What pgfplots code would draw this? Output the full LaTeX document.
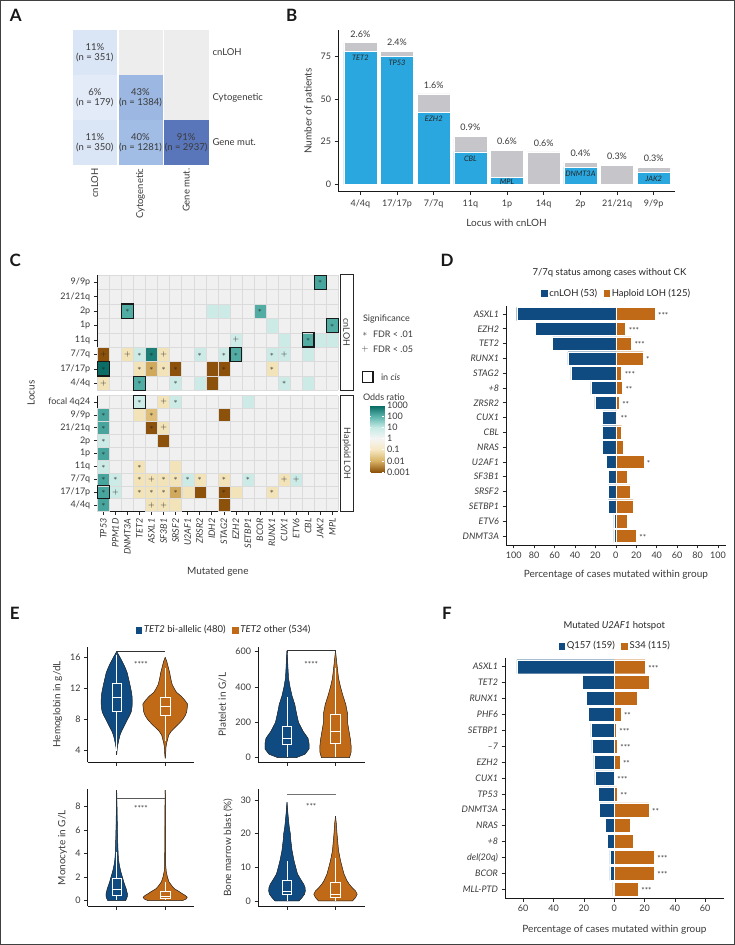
\documentclass[border=0pt]{standalone}
\usepackage{fontspec}
\setmainfont{Lato}
\usepackage{pgfplots}
\usepackage{pgfplotstable}
\pgfplotsset{compat=1.18}
\usepgfplotslibrary{statistics}

\definecolor{txt}{HTML}{3A3A3A}
\definecolor{bblue}{HTML}{2AA7DF}
\definecolor{bgrey}{HTML}{C6C5CA}
\definecolor{dblue}{HTML}{0F4B80}
\definecolor{dorange}{HTML}{C06A18}
\definecolor{hgrey}{HTML}{F0F0F0}
\definecolor{agrey}{HTML}{EDEDED}
\definecolor{aA}{HTML}{DAE5F5}
\definecolor{aB}{HTML}{E3EBF8}
\definecolor{aC}{HTML}{9CB8E2}
\definecolor{aD}{HTML}{A2BDE5}
\definecolor{aE}{HTML}{5A76BB}

\pgfplotsset{
  every axis/.append style={
    scale only axis, clip=false,
    font=\fontsize{9}{10}\selectfont,
    /pgf/number format/assume math mode=true,
    tick align=outside, major tick length=3.5pt,
    tick style={black!85, line width=0.6pt},
    axis line style={black!90, line width=0.8pt},
    tick label style={text=txt},
    label style={text=txt, font=\fontsize{10}{11}\selectfont},
  },
  sqlegend/.style={legend image code/.code={\draw[##1, draw=white, line width=0.3pt] (0pt,-3.7pt) rectangle (7.4pt,3.7pt);}},
  brbg/.style={colormap={brbg}{rgb255=(140,81,10) rgb255=(216,179,101) rgb255=(246,232,195) rgb255=(245,245,245) rgb255=(199,234,229) rgb255=(90,180,172) rgb255=(1,102,94)},
    point meta min=-3, point meta max=3},
}

% violin half-widths (w, in px of the x axis) against value y
\pgfplotstableread{
y w
3.45 0
4.0 0.3
4.5 0.7
5.0 1.5
5.5 2.3
6.0 3.3
6.5 4.8
7.0 6.8
7.5 8.8
8.0 10.7
8.5 12.8
9.0 14.5
9.5 15.2
10.0 15.5
10.5 15.5
11.0 15.3
11.5 14.8
12.0 14.0
12.5 13.2
13.0 12.3
13.5 11.4
14.0 10.5
14.5 9.0
15.0 7.3
15.5 5.3
16.0 3.3
16.4 1.5
16.75 0
}\hbA
\pgfplotstableread{
y w
3.0 0
3.5 0.4
4.0 0.6
4.5 0.8
5.0 1.5
5.5 2.5
6.0 3.5
6.5 6.0
7.0 10.0
7.5 14.0
8.0 17.5
8.5 20.0
9.0 21.5
9.5 22.0
10.0 22.3
10.5 19.5
11.0 16.0
11.5 11.3
12.0 9.0
12.5 7.0
13.0 6.0
13.5 5.2
14.0 4.5
14.5 3.5
15.0 2.5
15.5 1.5
16.0 0
}\hbB
\pgfplotstableread{
y w
0 0
0 9
20 18
50 22
80 22
110 21
150 16
200 11.5
250 9.5
300 7.8
350 5
400 3
450 1.5
500 1
550 0.6
605 0
}\plA
\pgfplotstableread{
y w
0 0
0 14
30 15.5
60 15.7
100 15
150 13.5
200 12
250 12
300 10.3
350 7.5
400 5
450 3
500 2
550 1
605 0
}\plB
\pgfplotstableread{
y w
0 0
0 8.8
0.2 10
0.4 10.7
0.6 10.7
0.8 10
1.0 9.5
1.3 8.2
1.6 7
2.0 5.7
2.5 4
3.0 2.7
3.5 1.8
4.0 1.4
5.0 1
6.0 0.7
7.5 0.4
9.4 0
}\moA
\pgfplotstableread{
y w
0 0
0 17
0.15 21
0.3 22
0.45 20
0.6 17
0.77 14
1.0 9.5
1.2 7.2
1.6 3.8
2.0 2.2
2.5 1
3.0 0.5
7.5 0.3
9.4 0
}\moB
\pgfplotstableread{
y w
0 0
0 12
1 15
2 17.5
3 18.3
4 18
5 16.7
6 14.5
7 12.5
8 10.5
10 8.7
12 7
15 5
18 3.8
20 3.3
22 2.2
25 1.2
27 0.6
29.3 0
}\blA
\pgfplotstableread{
y w
0 0
0 17
1 20
2 21.7
3 20
4 16.5
5 13.7
6 11.5
8 8.5
10 6.7
12 5
15 3
20 1.5
23 0.8
25.2 0
}\blB

\newcommand\violin[3]{%
  \addplot[fill=#3, draw=#3, line width=0.2pt] table[x expr=#1+\thisrow{w}, y=y] {#2} -- cycle;
  \addplot[fill=#3, draw=#3, line width=0.2pt] table[x expr=#1-\thisrow{w}, y=y] {#2} -- cycle;
  \addplot[draw=black!85, line width=0.5pt] table[x expr=#1+\thisrow{w}, y=y] {#2};
  \addplot[draw=black!85, line width=0.5pt] table[x expr=#1-\thisrow{w}, y=y] {#2};
}
\newcommand\vlbox[7]{% position, median, uq, lq, uw, lw, colour
  \addplot[boxplot prepared={draw position=#1, median=#2, upper quartile=#3, lower quartile=#4,
    upper whisker=#5, lower whisker=#6, box extend=9.5, whisker extend=0, draw direction=y},
    fill=#7, draw=white, line width=0.7pt] coordinates {};
}

\begin{document}
\begin{tikzpicture}
\fill[white] (0pt,0pt) rectangle (735pt,945pt);
\draw[black!75, line width=1.2pt] (0.6pt,0.6pt) rectangle (734.4pt,944.4pt);

% panel letters
\begin{scope}[every node/.style={font=\fontsize{17}{17}\selectfont\bfseries, text=black!90}]
\node at (15.8pt,929.2pt) {A};
\node at (291.7pt,929.5pt) {B};
\node at (15.3pt,685pt) {C};
\node at (447pt,685pt) {D};
\node at (14.7pt,331.3pt) {E};
\node at (447pt,331.3pt) {F};
\end{scope}

% ---------------- A ----------------
\begin{axis}[at={(72pt,780pt)}, anchor=south west, width=137pt, height=135pt,
  xmin=0.5, xmax=3.5, ymin=0.5, ymax=3.5,
  axis line style={draw=none}, major tick length=0pt, tick style={draw=none},
  xtick={1,2,3}, xticklabels={cnLOH,Cytogenetic,Gene mut.},
  ytick={1,2,3}, yticklabels={Gene mut.,Cytogenetic,cnLOH},
  yticklabel pos=right,
  x tick label style={rotate=90, anchor=east},
  tick label style={font=\fontsize{9.5}{11}\selectfont},
  /pgf/number format/1000 sep={},
]
\addplot[scatter, only marks, mark=square*, mark size=21.8pt, scatter src=explicit symbolic,
  scatter/classes={g={fill=agrey,draw=agrey}, a={fill=aA,draw=aA}, b={fill=aB,draw=aB},
    c={fill=aC,draw=aC}, d={fill=aD,draw=aD}, e={fill=aE,draw=aE}}]
  coordinates {(1,3)[a] (2,3)[g] (3,3)[g] (1,2)[b] (2,2)[c] (3,2)[g] (1,1)[a] (2,1)[d] (3,1)[e]};
% percentages (top line) and counts (bottom line)
\addplot[draw=none, mark=none, point meta=explicit,
  nodes near coords={\pgfmathprintnumber{\pgfplotspointmeta}\%},
  every node near coord/.append style={anchor=center, yshift=5.4pt, font=\fontsize{9.5}{10}\selectfont, text=txt}]
  coordinates {(1,3)[11] (1,2)[6] (2,2)[43] (1,1)[11] (2,1)[40] (3,1)[91]};
\addplot[draw=none, mark=none, point meta=explicit,
  nodes near coords={(n = \pgfmathprintnumber{\pgfplotspointmeta})},
  every node near coord/.append style={anchor=center, yshift=-5.4pt, font=\fontsize{9.5}{10}\selectfont, text=txt}]
  coordinates {(1,3)[351] (1,2)[179] (2,2)[1384] (1,1)[350] (2,1)[1281] (3,1)[2937]};
\end{axis}

% ---------------- B ----------------
\begin{axis}[at={(338pt,753.3pt)}, anchor=south west, width=337pt, height=161.7pt,
  xmin=-0.61, xmax=8.58, ymin=-4.3, ymax=90.5,
  axis x line*=bottom, axis y line*=left,
  xtick={0,...,8}, xticklabels={4/4q,17/17p,7/7q,11q,1p,14q,2p,21/21q,9/9p},
  ytick={0,25,50,75},
  x tick label style={yshift=-1.5pt},
  xlabel={Locus with cnLOH}, xlabel style={at={(axis description cs:0.5,-0.192)}, anchor=center},
  ylabel={Number of patients}, ylabel style={at={(axis description cs:-0.087,0.5)}, anchor=center},
]
\addplot[ybar, bar width=33pt, bar shift=0pt, fill=bgrey, draw=white, line width=0.6pt,
  point meta=explicit,
  nodes near coords={\pgfmathprintnumber[fixed,fixed zerofill,precision=1]{\pgfplotspointmeta}\%},
  every node near coord/.append style={font=\fontsize{9}{10}\selectfont, text=txt, yshift=2pt}]
  coordinates {(0,83)[2.6] (1,78)[2.4] (2,53)[1.6] (3,28)[0.9] (4,20)[0.6] (5,19)[0.6] (6,13)[0.4] (7,11)[0.3] (8,10)[0.3]};
\addplot[ybar, bar width=33pt, bar shift=0pt, fill=bblue, draw=white, line width=0.6pt]
  coordinates {(0,78) (1,75) (2,42) (3,19) (4,4) (5,0) (6,10) (7,0) (8,7)};
\addplot[draw=none, mark=none, nodes near coords, point meta=explicit symbolic,
  every node near coord/.append style={anchor=north, inner sep=2pt, yshift=-1.5pt,
    font=\fontsize{7.5}{8}\selectfont\itshape, text=black!85}]
  coordinates {(0,78)[TET2] (1,75)[TP53] (2,42)[EZH2] (3,19)[CBL] (6,10)[DNMT3A] (8,7)[JAK2]};
\addplot[draw=none, mark=none, nodes near coords, point meta=explicit symbolic,
  every node near coord/.append style={anchor=center, inner sep=0pt,
    font=\fontsize{7.5}{8}\selectfont\itshape, text=black!85}]
  coordinates {(4,1.5)[MPL]};
\end{axis}

% ---------------- C ----------------
\begin{axis}[brbg, at={(97.3pt,554.5pt)}, anchor=south west, width=241pt, height=115.5pt,
  xmin=0.5, xmax=20.5, ymin=0.5, ymax=8.5,
  axis x line*=bottom, axis y line*=left, x axis line style={draw=none},
  xtick={1,...,20}, xticklabels={}, x tick style={draw=none},
  ytick={1,...,8}, yticklabels={4/4q,17/17p,7/7q,11q,1p,2p,21/21q,9/9p},
  minor xtick={0.5,1.5,...,20.5}, minor ytick={0.5,1.5,...,8.5},
  minor tick length=0pt, xminorgrids, yminorgrids,
  minor grid style={black!14, line width=0.4pt},
  axis background/.style={fill=hgrey},
]
\addplot[scatter, only marks, mark=square*, mark size=6.02pt, mark options={yscale=1.195, line width=0.3pt},
  point meta=explicit, scatter/use mapped color={draw=black!14, fill=mapped color}]
  coordinates {
  (19,8)[2.2]
  (3,6)[2.1] (10,6)[0.9] (11,6)[0.9] (14,6)[2.1]
  (15,5)[0.9] (20,5)[2.1]
  (12,4)[0.8] (16,4)[0.9] (18,4)[2.1] (19,4)[0.9] (20,4)[0.9]
  (1,3)[-3] (3,3)[-1.1] (4,3)[0.9] (5,3)[2.7] (6,3)[-1.1] (9,3)[0.9] (11,3)[0.9] (12,3)[2.1] (15,3)[0.9] (16,3)[0.9] (18,3)[0.9]
  (1,2)[2.9] (4,2)[-1.1] (5,2)[-2.1] (6,2)[-1.1] (7,2)[-3] (10,2)[-3] (11,2)[-3] (15,2)[-1.1]
  (1,1)[-1.1] (4,1)[2.1] (7,1)[0.9] (9,1)[0.9] (10,1)[-3] (16,1)[0.9] (18,1)[0.9]
  };
\addplot[draw=none, mark=none, nodes near coords={$\ast$},
  every node near coord/.append style={anchor=center, inner sep=0pt, font=\fontsize{7}{7}\selectfont, text=black!85}]
  coordinates {(19,8) (3,6) (14,6) (20,5) (18,4) (4,3) (5,3) (9,3) (11,3) (12,3) (15,3)
  (1,2) (4,2) (5,2) (6,2) (7,2) (11,2) (15,2) (4,1) (7,1) (16,1)};
\addplot[draw=none, mark=none, nodes near coords={$+$},
  every node near coord/.append style={anchor=center, inner sep=0pt, font=\fontsize{8}{8}\selectfont, text=black!85}]
  coordinates {(12,4) (1,3) (3,3) (6,3) (16,3) (1,1)};
\addplot[only marks, mark=square, mark size=5.9pt, mark options={yscale=1.2, line width=1.2pt, draw=black!90}]
  coordinates {(19,8) (3,6) (20,5) (18,4) (12,3) (1,2) (4,1)};
\end{axis}

\begin{axis}[brbg, at={(97.3pt,433.5pt)}, anchor=south west, width=241pt, height=116pt,
  xmin=0.5, xmax=20.5, ymin=0.5, ymax=9.5,
  axis x line*=bottom, axis y line*=left,
  xtick={1,...,20},
  xticklabels={TP53,PPM1D,DNMT3A,TET2,ASXL1,SF3B1,SRSF2,U2AF1,ZRSR2,IDH2,STAG2,EZH2,SETBP1,BCOR,RUNX1,CUX1,ETV6,CBL,JAK2,MPL},
  x tick label style={rotate=90, anchor=east, font=\fontsize{9}{10}\selectfont\itshape},
  ytick={1,...,9}, yticklabels={4/4q,17/17p,7/7q,11q,1p,2p,21/21q,9/9p,focal 4q24},
  minor xtick={0.5,1.5,...,20.5}, minor ytick={0.5,1.5,...,9.5},
  minor tick length=0pt, xminorgrids, yminorgrids,
  minor grid style={black!14, line width=0.4pt},
  axis background/.style={fill=hgrey},
  xlabel={Mutated gene}, xlabel style={at={(axis description cs:0.5,-0.522)}, anchor=center},
  colorbar, colorbar style={at={(parent axis.north east)}, anchor=north west, xshift=23.7pt, yshift=-9.5pt,
    width=11pt, height=67pt, ytick={-3,-2,-1,0,1,2,3},
    yticklabels={0.001,0.01,0.1,1,10,100,1000},
    yticklabel style={font=\fontsize{9}{10}\selectfont, text=txt},
    major tick length=2pt, tick style={draw=white, line width=0.4pt}, axis line style={draw=none}},
]
\addplot[scatter, only marks, mark=square*, mark size=6.02pt, mark options={yscale=1.07, line width=0.3pt},
  point meta=explicit, scatter/use mapped color={draw=black!14, fill=mapped color}]
  coordinates {
  (4,9)[0.9] (6,9)[-1.1] (7,9)[0.9] (13,9)[0.9]
  (1,8)[2.2] (4,8)[-1.1] (5,8)[-1.8] (11,8)[-3]
  (1,7)[2.2] (5,7)[-3] (6,7)[-1.1]
  (1,6)[0.9] (6,6)[-3]
  (1,5)[2.2]
  (1,4)[0.9] (4,4)[-1.1] (7,4)[-1.1]
  (1,3)[2.2] (2,3)[0.9] (4,3)[-1.1] (5,3)[-1.1] (6,3)[-1.1] (7,3)[-1.1] (8,3)[0.9] (9,3)[-1.1] (11,3)[-1.1] (13,3)[0.9] (16,3)[-1.1] (17,3)[0.9]
  (1,2)[2.2] (2,2)[0.9] (4,2)[-1.1] (5,2)[-1.1] (6,2)[-1.1] (7,2)[-2.1] (8,2)[-1.1] (9,2)[-3] (11,2)[-3] (12,2)[-1.1] (15,2)[-1.1]
  (1,1)[2.2] (5,1)[-1.1] (6,1)[-1.1] (7,1)[-1.1] (11,1)[-3]
  };
\addplot[draw=none, mark=none, nodes near coords={$\ast$},
  every node near coord/.append style={anchor=center, inner sep=0pt, font=\fontsize{7}{7}\selectfont, text=black!85}]
  coordinates {(4,9) (7,9) (1,8) (5,8) (1,7) (5,7) (1,6) (1,5) (1,4) (4,4) (1,3) (2,3) (4,3) (6,3) (7,3) (8,3)
  (9,3) (11,3) (13,3) (1,2) (4,2) (5,2) (6,2) (7,2) (11,2) (15,2) (1,1)};
\addplot[draw=none, mark=none, nodes near coords={$+$},
  every node near coord/.append style={anchor=center, inner sep=0pt, font=\fontsize{8}{8}\selectfont, text=black!85}]
  coordinates {(6,9) (6,7) (5,3) (16,3) (17,3) (2,2) (5,1) (6,1)};
\addplot[only marks, mark=square, mark size=5.9pt, mark options={yscale=1.07, line width=1.2pt, draw=black!90}]
  coordinates {(4,9) (1,2)};
\end{axis}

% strips and legend of C
\draw[black!85, line width=0.6pt, fill=white] (340pt,670.5pt) rectangle (353.3pt,554.5pt);
\draw[black!85, line width=0.6pt, fill=white] (340pt,549.5pt) rectangle (353.3pt,433.5pt);
\node[rotate=-90, font=\fontsize{9}{10}\selectfont, text=txt] at (346.7pt,612.5pt) {cnLOH};
\node[rotate=-90, font=\fontsize{9}{10}\selectfont, text=txt] at (346.7pt,491.5pt) {Haploid LOH};
\node[rotate=90, font=\fontsize{10}{11}\selectfont, text=txt] at (31pt,552pt) {Locus};
\begin{scope}[every node/.style={anchor=west, font=\fontsize{9}{10}\selectfont, text=txt}]
\node at (359.5pt,626pt) {Significance};
\node[anchor=center] at (365pt,611pt) {$\ast$};
\node at (369.5pt,611pt) {FDR < .01};
\node[anchor=center] at (365pt,595.7pt) {$+$};
\node at (369.5pt,595.7pt) {FDR < .05};
\node at (377.5pt,568pt) {in \textit{cis}};
\node at (359.5pt,547.7pt) {Odds ratio};
\end{scope}
\draw[black!90, line width=1.2pt] (362.3pt,573.5pt) rectangle (373pt,562.7pt);

% ---------------- D ----------------
\begin{axis}[at={(506pt,400pt)}, anchor=south west, width=219.7pt, height=239pt,
  xmin=-107.5, xmax=107.5, ymin=0.39, ymax=16.54,
  axis x line*=bottom, axis y line*=left,
  xtick={-100,-80,...,100}, xticklabels={100,80,60,40,20,0,20,40,60,80,100},
  ytick={1,...,16},
  yticklabels={DNMT3A,ETV6,SETBP1,SRSF2,SF3B1,U2AF1,NRAS,CBL,CUX1,ZRSR2,+8,STAG2,RUNX1,TET2,EZH2,ASXL1},
  y tick label style={font=\fontsize{9}{10}\selectfont\itshape},
  xlabel={Percentage of cases mutated within group},
  xlabel style={at={(axis description cs:0.5,-0.1255)}, anchor=center},
  title={7/7q status among cases without CK},
  title style={at={(axis description cs:0.471,1.113)}, anchor=center, font=\fontsize{9.5}{10}\selectfont, text=black!85},
  sqlegend, legend columns=2,
  legend style={at={(0.5,1.054)}, anchor=center, draw=none, fill=none, font=\fontsize{9.5}{10}\selectfont,
    text=black!85, /tikz/every even column/.append style={column sep=4pt}, nodes={inner sep=1.5pt}},
]
\addplot[xbar, bar width=13.3pt, bar shift=0pt, fill=dblue, draw=white, line width=0.4pt]
  coordinates {(-97,16) (-79,15) (-62,14) (-47,13) (-44,12) (-24.5,11) (-20.5,10) (-13,9) (-13,8) (-13,7)
  (-9.2,6) (-7.4,5) (-7.4,4) (-7.4,3) (-2,2) (-2,1)};
\addplot[xbar, bar width=13.3pt, bar shift=0pt, fill=dorange, draw=white, line width=0.4pt]
  coordinates {(38.3,16) (9.6,15) (15.2,14) (26.6,13) (5.6,12) (6.4,11) (3.2,10) (1.6,9) (5.6,8) (7.2,7)
  (27.3,6) (11.3,5) (14.4,4) (16.9,3) (11.3,2) (20,1)};
\addplot[draw=none, mark=none, nodes near coords, point meta=explicit symbolic,
  every node near coord/.append style={anchor=west, font=\fontsize{8}{8}\selectfont, text=txt, inner sep=1pt, xshift=2pt, yshift=-1.4pt}]
  coordinates {(38.3,16)[***] (9.6,15)[***] (15.2,14)[***] (26.6,13)[*] (5.6,12)[***] (6.4,11)[**]
  (3.2,10)[**] (1.6,9)[**] (27.3,6)[*] (20,1)[**]};
\legend{cnLOH (53), Haploid LOH (125)}
\end{axis}

% ---------------- F ----------------
\begin{axis}[at={(505pt,46.7pt)}, anchor=south west, width=219pt, height=240pt,
  xmin=-72, xmax=72.4, ymin=0.43, ymax=15.53,
  axis x line*=bottom, axis y line*=left,
  xtick={-60,-40,...,60}, xticklabels={60,40,20,0,20,40,60},
  ytick={1,...,15},
  yticklabels={MLL-PTD,BCOR,del(20q),+8,NRAS,DNMT3A,TP53,CUX1,EZH2,\textendash7,SETBP1,PHF6,RUNX1,TET2,ASXL1},
  y tick label style={font=\fontsize{9}{10}\selectfont\itshape},
  xlabel={Percentage of cases mutated within group},
  xlabel style={at={(axis description cs:0.5,-0.129)}, anchor=center},
  title={Mutated \textit{U2AF1} hotspot},
  title style={at={(axis description cs:0.499,1.111)}, anchor=center, font=\fontsize{9.5}{10}\selectfont, text=black!85},
  sqlegend, legend columns=2,
  legend style={at={(0.5,1.051)}, anchor=center, draw=none, fill=none, font=\fontsize{9.5}{10}\selectfont,
    text=black!85, /tikz/every even column/.append style={column sep=4pt}, nodes={inner sep=1.5pt}},
]
\addplot[xbar, bar width=14pt, bar shift=0pt, fill=dblue, draw=white, line width=0.4pt]
  coordinates {(-0.9,1) (-2.9,2) (-2.9,3) (-4.6,4) (-5.9,5) (-9.7,6) (-10.3,7) (-12.7,8) (-13.4,9) (-14.7,10)
  (-15.4,11) (-17.1,12) (-18.5,13) (-20.9,14) (-64.2,15)};
\addplot[xbar, bar width=14pt, bar shift=0pt, fill=dorange, draw=white, line width=0.4pt]
  coordinates {(15.8,1) (26.4,2) (26.4,3) (12.5,4) (10.5,5) (22.9,6) (2,7) (0,8) (3.7,9) (2,10)
  (1.3,11) (4.4,12) (15,13) (22.9,14) (20.4,15)};
\addplot[draw=none, mark=none, nodes near coords, point meta=explicit symbolic,
  every node near coord/.append style={anchor=west, font=\fontsize{8}{8}\selectfont, text=txt, inner sep=1pt, xshift=2pt, yshift=-1.4pt}]
  coordinates {(20.4,15)[***] (4.4,12)[**] (1.3,11)[***] (2,10)[***] (3.7,9)[**] (0,8)[***] (2,7)[**]
  (22.9,6)[**] (26.4,3)[***] (26.4,2)[***] (15.8,1)[***]};
\legend{Q157 (159), S34 (115)}
\end{axis}

% ---------------- E ----------------
\begin{axis}[at={(87.7pt,182.7pt)}, anchor=south west, width=106.6pt, height=115.6pt,
  xmin=0, xmax=106.6, ymin=2.5, ymax=17.37,
  axis x line*=bottom, axis y line*=left,
  xtick={29,77.5}, xticklabels={}, ytick={4,8,12,16},
  ylabel={Hemoglobin in g/dL}, ylabel style={at={(axis description cs:-0.283,0.5)}, anchor=center},
  sqlegend, legend columns=2,
  legend style={at={(1.272,1.1445)}, anchor=center, draw=none, fill=none, font=\fontsize{9.5}{10}\selectfont,
    text=black!85, /tikz/every even column/.append style={column sep=4pt}, nodes={inner sep=1.5pt}},
]
\addlegendimage{fill=dblue}
\addlegendentry{\textit{TET2} bi-allelic (480)}
\addlegendimage{fill=dorange}
\addlegendentry{\textit{TET2} other (534)}
\violin{29}{\hbA}{dblue}
\violin{77.5}{\hbB}{dorange}
\vlbox{29}{10.9}{12.7}{9.05}{16.3}{4.0}{dblue}
\vlbox{77.5}{9.7}{10.9}{8.5}{14.6}{5.2}{dorange}
\addplot[black!80, line width=0.6pt] coordinates {(29,16.8) (77.5,16.8)};
\node[font=\fontsize{8}{8}\selectfont, text=txt] at (axis cs:53.25,15.1) {****};
\end{axis}

\begin{axis}[at={(258pt,182.7pt)}, anchor=south west, width=106.6pt, height=115.6pt,
  xmin=0, xmax=106.6, ymin=-26, ymax=628,
  axis x line*=bottom, axis y line*=left,
  xtick={29,77.5}, xticklabels={}, ytick={0,200,400,600},
  ylabel={Platelet in G/L}, ylabel style={at={(axis description cs:-0.333,0.5)}, anchor=center},
]
\violin{29}{\plA}{dblue}
\violin{77.5}{\plB}{dorange}
\vlbox{29}{110}{176}{76}{345}{2}{dblue}
\vlbox{77.5}{147}{248}{82}{506}{2}{dorange}
\addplot[black!80, line width=0.6pt] coordinates {(29,590) (29,609) (77.5,609) (77.5,590)};
\node[font=\fontsize{8}{8}\selectfont, text=txt] at (axis cs:53.25,530) {****};
\end{axis}

\begin{axis}[at={(87.7pt,39pt)}, anchor=south west, width=106.6pt, height=116.7pt,
  xmin=0, xmax=106.6, ymin=-0.45, ymax=9.48,
  axis x line*=bottom, axis y line*=left,
  xtick={29,77.5}, xticklabels={}, ytick={0,2,4,6,8},
  ylabel={Monocyte in G/L}, ylabel style={at={(axis description cs:-0.236,0.5)}, anchor=center},
]
\violin{29}{\moA}{dblue}
\violin{77.5}{\moB}{dorange}
\vlbox{29}{1.0}{1.9}{0.43}{4.17}{0.02}{dblue}
\vlbox{77.5}{0.4}{0.77}{0.17}{1.6}{0.02}{dorange}
\addplot[black!65, line width=0.6pt] coordinates {(29,8.75) (77.5,8.75)};
\node[font=\fontsize{8}{8}\selectfont, text=txt] at (axis cs:53.25,7.85) {****};
\end{axis}

\begin{axis}[at={(258pt,39pt)}, anchor=south west, width=106.6pt, height=116.7pt,
  xmin=0, xmax=106.6, ymin=-1.5, ymax=33.2,
  axis x line*=bottom, axis y line*=left,
  xtick={29,77.5}, xticklabels={}, ytick={0,10,20,30},
  ylabel={Bone marrow blast (\%)}, ylabel style={at={(axis description cs:-0.281,0.5)}, anchor=center},
]
\violin{29}{\blA}{dblue}
\violin{77.5}{\blB}{dorange}
\vlbox{29}{3.0}{6.0}{2.0}{11.9}{0}{dblue}
\vlbox{77.5}{2.0}{5.5}{1.1}{12.7}{0}{dorange}
\addplot[black!55, line width=0.6pt] coordinates {(29,31.7) (77.5,31.7)};
\node[font=\fontsize{8}{8}\selectfont, text=txt] at (axis cs:53.25,28.1) {***};
\end{axis}
\end{tikzpicture}
\end{document}
